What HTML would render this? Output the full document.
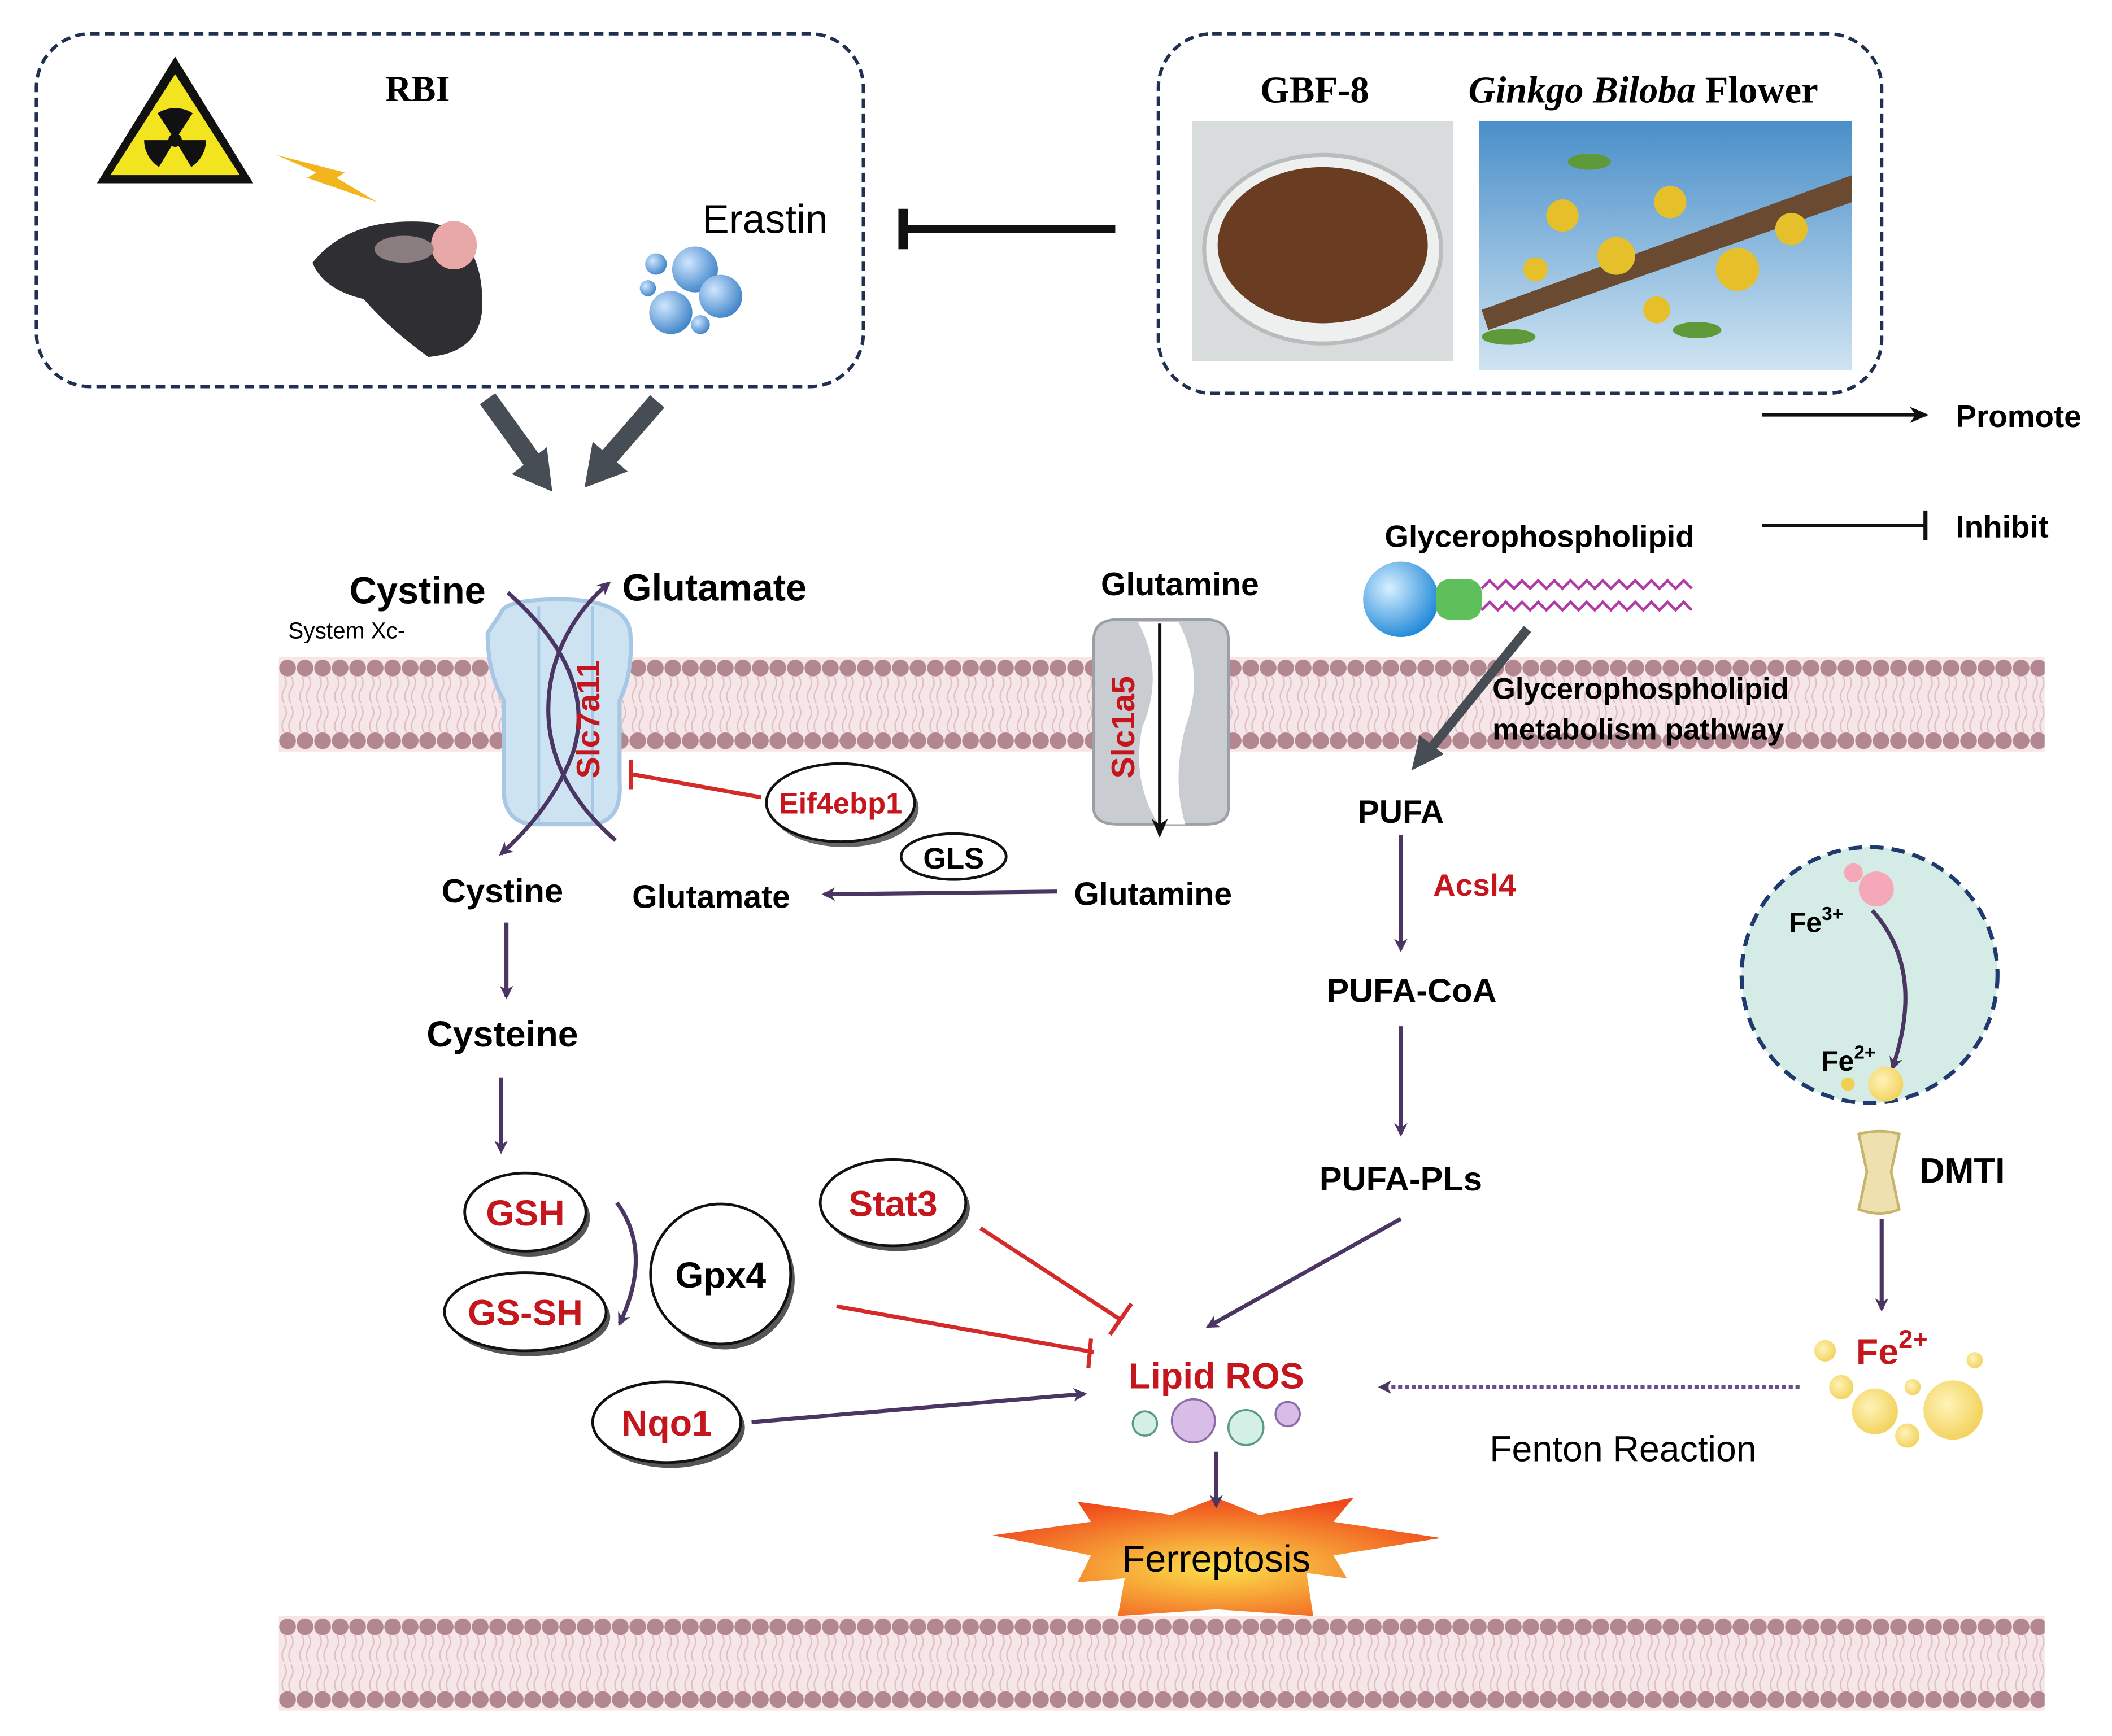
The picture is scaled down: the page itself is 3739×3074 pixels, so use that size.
<!DOCTYPE html>
<html><head><meta charset="utf-8"><style>
html,body{margin:0;padding:0;background:#fff;}
svg{display:block;}
text{font-family:"Liberation Sans",sans-serif;}
</style></head><body>
<svg width="3739" height="3074" viewBox="0 0 1568 1289" xmlns="http://www.w3.org/2000/svg">
<defs>
<pattern id="mem" x="207" y="488" width="13" height="70" patternUnits="userSpaceOnUse">
 <rect x="0" y="0" width="13" height="70" fill="#f6e6e8"/>
 <path d="M4 14 q3 5 0 10 q-3 5 0 10 M9 14 q3 5 0 10 q-3 5 0 10 M4 36 q3 5 0 10 q-3 5 0 10 M9 36 q3 5 0 10 q-3 5 0 10" stroke="#ddbfc3" stroke-width="1" fill="none"/>
 <circle cx="6.5" cy="8" r="6.2" fill="#b2878f"/>
 <circle cx="6.5" cy="62" r="6.2" fill="#b2878f"/>
</pattern>
<pattern id="mem2" x="207" y="1200" width="13" height="70" patternUnits="userSpaceOnUse">
 <rect x="0" y="0" width="13" height="70" fill="#f6e6e8"/>
 <path d="M4 14 q3 5 0 10 q-3 5 0 10 M9 14 q3 5 0 10 q-3 5 0 10 M4 36 q3 5 0 10 q-3 5 0 10 M9 36 q3 5 0 10 q-3 5 0 10" stroke="#ddbfc3" stroke-width="1" fill="none"/>
 <circle cx="6.5" cy="8" r="6.2" fill="#b2878f"/>
 <circle cx="6.5" cy="62" r="6.2" fill="#b2878f"/>
</pattern>
<marker id="ap" markerWidth="10" markerHeight="10" refX="8" refY="5" orient="auto" markerUnits="userSpaceOnUse"><path d="M0 0 L10 5 L0 10 L3 5 Z" fill="#4b3563"/></marker>
<marker id="ak" markerWidth="14" markerHeight="12" refX="12" refY="6" orient="auto" markerUnits="userSpaceOnUse"><path d="M0 0 L14 6 L0 12 L4 6 Z" fill="#111"/></marker>
<linearGradient id="sky" x1="0" y1="0" x2="0" y2="1"><stop offset="0" stop-color="#4a8fc9"/><stop offset="1" stop-color="#cfe4f2"/></linearGradient>
<radialGradient id="fire" cx="0.5" cy="0.6" r="0.6"><stop offset="0" stop-color="#fbe04a"/><stop offset="1" stop-color="#f04a1c"/></radialGradient>
<radialGradient id="bb" cx="0.35" cy="0.35" r="0.7"><stop offset="0" stop-color="#cfe6ff"/><stop offset="1" stop-color="#3f84c8"/></radialGradient>
<radialGradient id="gb" cx="0.35" cy="0.35" r="0.7"><stop offset="0" stop-color="#d6f0ff"/><stop offset="1" stop-color="#1f87d8"/></radialGradient>
<radialGradient id="yb" cx="0.4" cy="0.4" r="0.7"><stop offset="0" stop-color="#fff3b8"/><stop offset="1" stop-color="#f1cf52"/></radialGradient>
</defs>

<rect x="27" y="25" width="614" height="262" rx="40" fill="none" stroke="#1f3050" stroke-width="2.5" stroke-dasharray="7,4"/>
<rect x="860" y="25" width="537" height="267" rx="40" fill="none" stroke="#1f3050" stroke-width="2.5" stroke-dasharray="7,4"/>
<polygon points="130,42 188,136 72,136" fill="#111"/>
<polygon points="130,55 178,130 82,130" fill="#f2e520"/>
<circle cx="130" cy="104" r="5" fill="#111"/>
<path d="M130 104 L117 84 A24 24 0 0 1 143 84 Z M130 104 L153 104 A24 24 0 0 1 142 124 Z M130 104 L118 124 A24 24 0 0 1 107 104 Z" fill="#111"/>
<path d="M205 115 L235 128 L228 132 L280 150 L250 132 L256 128 Z" fill="#f2b51c"/>
<text x="310" y="75" font-weight="bold" font-size="27" text-anchor="middle" style="font-family:'Liberation Serif',serif">RBI</text>
<path d="M232 195 Q260 160 320 165 Q360 175 358 230 Q355 262 318 265 Q290 245 270 222 Q240 215 232 195 Z" fill="#2f2f33"/>
<ellipse cx="337" cy="182" rx="17" ry="18" fill="#e8a8a8"/>
<ellipse cx="300" cy="185" rx="22" ry="10" fill="#8a7d80"/>
<text x="568" y="173" font-size="30" text-anchor="middle">Erastin</text>
<circle cx="516" cy="200" r="17" fill="url(#bb)"/><circle cx="535" cy="220" r="16" fill="url(#bb)"/>
<circle cx="498" cy="232" r="16" fill="url(#bb)"/><circle cx="487" cy="196" r="8" fill="url(#bb)"/>
<circle cx="481" cy="214" r="6" fill="url(#bb)"/><circle cx="520" cy="241" r="7" fill="url(#bb)"/>
<text x="976" y="76" font-weight="bold" font-size="28" text-anchor="middle" style="font-family:'Liberation Serif',serif">GBF-8</text>
<text x="1220" y="76" font-weight="bold" font-size="28" text-anchor="middle" style="font-family:'Liberation Serif',serif"><tspan font-style="italic">Ginkgo Biloba</tspan> Flower</text>
<rect x="885" y="90" width="194" height="178" fill="#d8dcdc"/>
<ellipse cx="982" cy="185" rx="88" ry="70" fill="#eef0f0" stroke="#b8bcbc" stroke-width="3"/>
<ellipse cx="982" cy="182" rx="78" ry="58" fill="#6a3c22"/>
<rect x="1098" y="90" width="277" height="185" fill="url(#sky)"/>
<path d="M1100 230 L1375 130 L1375 150 L1105 245 Z" fill="#6b4a32"/>
<g fill="#e6c02a"><circle cx="1160" cy="160" r="12"/><circle cx="1200" cy="190" r="14"/><circle cx="1240" cy="150" r="12"/><circle cx="1290" cy="200" r="16"/><circle cx="1330" cy="170" r="12"/><circle cx="1230" cy="230" r="10"/><circle cx="1140" cy="200" r="9"/></g>
<g fill="#5f9a3a"><ellipse cx="1120" cy="250" rx="20" ry="6"/><ellipse cx="1260" cy="245" rx="18" ry="6"/><ellipse cx="1180" cy="120" rx="16" ry="6"/></g>
<line x1="828" y1="170" x2="672" y2="170" stroke="#111" stroke-width="6"/>
<rect x="667" y="155" width="7" height="30" fill="#111"/>
<line x1="362" y1="296" x2="398" y2="346" stroke="#474d55" stroke-width="14"/>
<polygon points="380,352 410,365 406,332" fill="#474d55"/>
<line x1="488" y1="298" x2="448" y2="344" stroke="#474d55" stroke-width="14"/>
<polygon points="434,362 466,350 440,328" fill="#474d55"/>
<line x1="1308" y1="308" x2="1430" y2="308" stroke="#111" stroke-width="2.5" marker-end="url(#ak)"/>
<text x="1452" y="317" font-weight="bold" font-size="23">Promote</text>
<line x1="1308" y1="390" x2="1430" y2="390" stroke="#111" stroke-width="2.5"/>
<rect x="1428" y="379" width="3" height="22" fill="#111"/>
<text x="1452" y="399" font-weight="bold" font-size="23">Inhibit</text>

<rect x="207" y="488" width="1311" height="70" fill="url(#mem)"/>
<rect x="207" y="1200" width="1311" height="70" fill="url(#mem2)"/>

<path d="M372 455 Q375 445 415 445 Q465 445 468 470 Q470 500 460 520 L460 580 Q462 610 440 612 L395 612 Q372 610 374 580 L374 520 Q362 500 362 470 Z" fill="#cde3f2" stroke="#a7c8e4" stroke-width="3"/>
<path d="M400 450 L400 610 M440 450 L440 610" stroke="#a7c8e4" stroke-width="2"/>
<path d="M377 440 Q445 500 425 560 Q410 600 372 634" fill="none" stroke="#4b3563" stroke-width="3" marker-end="url(#ap)"/>
<path d="M457 624 Q395 570 410 500 Q420 460 452 433" fill="none" stroke="#4b3563" stroke-width="3" marker-end="url(#ap)"/>
<text x="0" y="0" transform="translate(445,578) rotate(-90)" font-weight="bold" font-size="24" fill="#c4161c">Slc7a11</text>
<text x="310" y="448" font-weight="bold" font-size="28" text-anchor="middle">Cystine</text>
<text x="462" y="446" font-weight="bold" font-size="28">Glutamate</text>
<text x="214" y="474" font-size="17">System Xc-</text>
<line x1="565" y1="592" x2="470" y2="575" stroke="#d42a2a" stroke-width="3"/>
<rect x="467" y="564" width="3" height="22" fill="#d42a2a"/>
<ellipse cx="627" cy="600" rx="55" ry="29" fill="#666"/>
<ellipse cx="624" cy="596" rx="55" ry="29" fill="#fff" stroke="#111" stroke-width="2"/>
<text x="624" y="604" font-weight="bold" font-size="22" fill="#c4161c" text-anchor="middle">Eif4ebp1</text>
<path d="M812 475 Q812 460 830 460 L895 460 Q912 460 912 475 L912 600 Q912 612 895 612 L830 612 Q812 612 812 600 Z" fill="#c9ccd0" stroke="#9aa0a6" stroke-width="2"/>
<path d="M845 462 Q865 500 848 540 Q840 580 860 612 L880 612 Q870 580 880 540 Q895 500 875 462 Z" fill="#fff"/>
<line x1="861" y1="463" x2="861" y2="620" stroke="#111" stroke-width="2.5" marker-end="url(#ak)"/>
<text x="0" y="0" transform="translate(842,578) rotate(-90)" font-weight="bold" font-size="24" fill="#c4161c">Slc1a5</text>
<text x="876" y="442" font-weight="bold" font-size="24" text-anchor="middle">Glutamine</text>
<text x="1143" y="406" font-weight="bold" font-size="23" text-anchor="middle">Glycerophospholipid</text>
<circle cx="1040" cy="445" r="28" fill="url(#gb)"/>
<rect x="1066" y="430" width="34" height="30" rx="10" fill="#5fbf5a"/>
<path d="M1100 437 l6 -6 l6 6 l6 -6 l6 6 l6 -6 l6 6 l6 -6 l6 6 l6 -6 l6 6 l6 -6 l6 6 l6 -6 l6 6 l6 -6 l6 6 l6 -6 l6 6 l6 -6 l6 6 l6 -6 l6 6 l6 -6 l6 6 l6 -6 l6 6 M1100 453 l6 -6 l6 6 l6 -6 l6 6 l6 -6 l6 6 l6 -6 l6 6 l6 -6 l6 6 l6 -6 l6 6 l6 -6 l6 6 l6 -6 l6 6 l6 -6 l6 6 l6 -6 l6 6 l6 -6 l6 6 l6 -6 l6 6 l6 -6 l6 6" fill="none" stroke="#b03aa6" stroke-width="2"/>
<line x1="1134" y1="467" x2="1062" y2="556" stroke="#474d55" stroke-width="7"/>
<polygon points="1048,572 1054,546 1072,560" fill="#474d55"/>
<text x="1108" y="519" font-weight="bold" font-size="22">Glycerophospholipid</text>
<text x="1108" y="549" font-weight="bold" font-size="22">metabolism pathway</text>
<ellipse cx="708" cy="636" rx="39" ry="17" fill="#fff" stroke="#111" stroke-width="2"/>
<text x="708" y="645" font-weight="bold" font-size="22" text-anchor="middle">GLS</text>
<line x1="785" y1="662" x2="612" y2="664" stroke="#4b3563" stroke-width="3" marker-end="url(#ap)"/>
<text x="856" y="672" font-weight="bold" font-size="24" text-anchor="middle">Glutamine</text>
<text x="528" y="674" font-weight="bold" font-size="24" text-anchor="middle">Glutamate</text>
<text x="373" y="670" font-weight="bold" font-size="25" text-anchor="middle">Cystine</text>
<line x1="376" y1="685" x2="376" y2="740" stroke="#4b3563" stroke-width="3" marker-end="url(#ap)"/>
<text x="373" y="777" font-weight="bold" font-size="27" text-anchor="middle">Cysteine</text>
<line x1="372" y1="800" x2="372" y2="855" stroke="#4b3563" stroke-width="3" marker-end="url(#ap)"/>
<ellipse cx="393" cy="904" rx="45" ry="29" fill="#555"/>
<ellipse cx="390" cy="900" rx="45" ry="29" fill="#fff" stroke="#111" stroke-width="2"/>
<text x="390" y="910" font-weight="bold" font-size="27" fill="#c4161c" text-anchor="middle">GSH</text>
<ellipse cx="393" cy="978" rx="60" ry="29" fill="#555"/>
<ellipse cx="390" cy="974" rx="60" ry="29" fill="#fff" stroke="#111" stroke-width="2"/>
<text x="390" y="984" font-weight="bold" font-size="27" fill="#c4161c" text-anchor="middle">GS-SH</text>
<path d="M458 893 Q485 930 460 983" fill="none" stroke="#4b3563" stroke-width="3" marker-end="url(#ap)"/>
<ellipse cx="538" cy="950" rx="52" ry="52" fill="#555"/>
<ellipse cx="535" cy="946" rx="52" ry="52" fill="#fff" stroke="#111" stroke-width="2"/>
<text x="535" y="956" font-weight="bold" font-size="27" text-anchor="middle">Gpx4</text>
<ellipse cx="666" cy="897" rx="54" ry="32" fill="#555"/>
<ellipse cx="663" cy="893" rx="54" ry="32" fill="#fff" stroke="#111" stroke-width="2"/>
<text x="663" y="903" font-weight="bold" font-size="27" fill="#c4161c" text-anchor="middle">Stat3</text>
<ellipse cx="498" cy="1060" rx="55" ry="30" fill="#555"/>
<ellipse cx="495" cy="1056" rx="55" ry="30" fill="#fff" stroke="#111" stroke-width="2"/>
<text x="495" y="1066" font-weight="bold" font-size="27" fill="#c4161c" text-anchor="middle">Nqo1</text>
<line x1="728" y1="912" x2="832" y2="980" stroke="#d42a2a" stroke-width="3"/>
<line x1="824" y1="991" x2="840" y2="968" stroke="#d42a2a" stroke-width="3"/>
<line x1="621" y1="970" x2="812" y2="1004" stroke="#d42a2a" stroke-width="3"/>
<line x1="810" y1="994" x2="808" y2="1016" stroke="#d42a2a" stroke-width="3"/>
<line x1="558" y1="1056" x2="805" y2="1035" stroke="#4b3563" stroke-width="3" marker-end="url(#ap)"/>
<line x1="1040" y1="905" x2="897" y2="985" stroke="#4b3563" stroke-width="3" marker-end="url(#ap)"/>
<text x="903" y="1031" font-weight="bold" font-size="27" fill="#c4161c" text-anchor="middle">Lipid ROS</text>
<circle cx="850" cy="1057" r="9" fill="#d3efe6" stroke="#5c9a88" stroke-width="1.5"/>
<circle cx="886" cy="1055" r="16" fill="#d8bde6" stroke="#8f6aa8" stroke-width="1.5"/>
<circle cx="925" cy="1060" r="13" fill="#d3efe6" stroke="#5c9a88" stroke-width="1.5"/>
<circle cx="956" cy="1050" r="9" fill="#d8bde6" stroke="#8f6aa8" stroke-width="1.5"/>
<polygon points="737,1140 810,1130 800,1115 870,1125 903,1112 935,1125 1005,1112 990,1130 1070,1142 990,1155 1000,1172 970,1168 975,1200 903,1195 830,1200 835,1172 800,1175 810,1155" fill="url(#fire)"/>
<line x1="903" y1="1078" x2="903" y2="1118" stroke="#4b3563" stroke-width="3" marker-end="url(#ap)"/>
<text x="903" y="1167" font-size="28" text-anchor="middle">Ferreptosis</text>
<text x="1040" y="611" font-weight="bold" font-size="24" text-anchor="middle">PUFA</text>
<line x1="1040" y1="620" x2="1040" y2="705" stroke="#4b3563" stroke-width="3" marker-end="url(#ap)"/>
<text x="1064" y="665" font-weight="bold" font-size="23" fill="#c4161c">Acsl4</text>
<text x="1048" y="744" font-weight="bold" font-size="25" text-anchor="middle">PUFA-CoA</text>
<line x1="1040" y1="762" x2="1040" y2="842" stroke="#4b3563" stroke-width="3" marker-end="url(#ap)"/>
<text x="1040" y="884" font-weight="bold" font-size="25" text-anchor="middle">PUFA-PLs</text>
<circle cx="1388" cy="724" r="95" fill="#d5ebe5" stroke="#1f3a6e" stroke-width="3" stroke-dasharray="10,6"/>
<circle cx="1376" cy="648" r="7" fill="#f5a9b8"/>
<circle cx="1393" cy="660" r="13" fill="#f5a9b8"/>
<path d="M1390 676 Q1430 720 1405 793" fill="none" stroke="#4b3563" stroke-width="3" marker-end="url(#ap)"/>
<text x="1328" y="692" font-weight="bold" font-size="21">Fe<tspan font-size="14" dy="-9">3+</tspan></text>
<text x="1352" y="795" font-weight="bold" font-size="21">Fe<tspan font-size="14" dy="-9">2+</tspan></text>
<circle cx="1400" cy="805" r="13" fill="url(#yb)"/><circle cx="1372" cy="805" r="5" fill="#f1cf52"/>
<path d="M1380 842 Q1396 838 1410 842 L1404 870 L1410 898 Q1396 904 1380 898 L1386 870 Z" fill="#efe0b0" stroke="#c9b46c" stroke-width="2"/>
<text x="1425" y="878" font-weight="bold" font-size="26">DMTI</text>
<line x1="1397" y1="905" x2="1397" y2="972" stroke="#4b3563" stroke-width="3" marker-end="url(#ap)"/>
<text x="1378" y="1013" font-weight="bold" font-size="27" fill="#c4161c">Fe<tspan font-size="19" dy="-12">2+</tspan></text>
<g fill="url(#yb)"><circle cx="1355" cy="1003" r="8"/><circle cx="1367" cy="1030" r="9"/><circle cx="1392" cy="1048" r="17"/><circle cx="1450" cy="1047" r="22"/><circle cx="1416" cy="1066" r="9"/><circle cx="1466" cy="1010" r="6"/><circle cx="1420" cy="1030" r="6"/></g>
<line x1="1336" y1="1030" x2="1025" y2="1030" stroke="#6b4f8a" stroke-width="3" stroke-dasharray="3,2" marker-end="url(#ap)"/>
<text x="1205" y="1085" font-size="27" text-anchor="middle">Fenton Reaction</text>
</svg>
</body></html>
